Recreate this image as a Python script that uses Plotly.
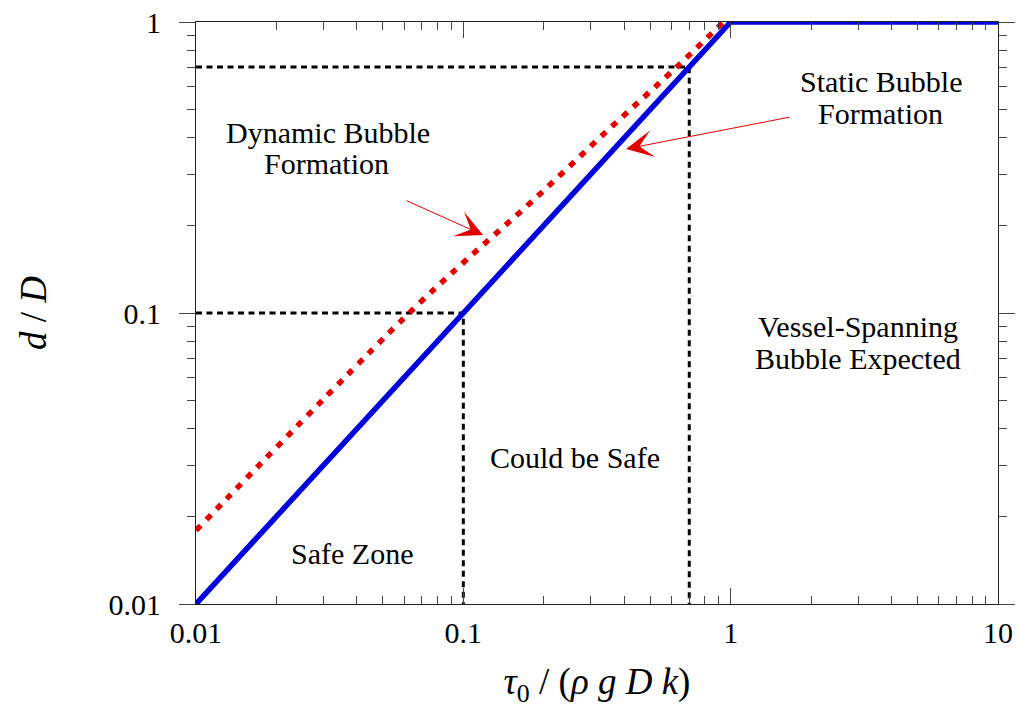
import plotly.graph_objects as go

# ---- data ----
blue_x = [0.01, 1.0, 10.0]
blue_y = [0.01, 1.0, 1.0]

red_x = [0.01, 0.0605, 0.1, 0.179, 0.339, 0.652, 0.94]
red_y = [0.0179, 0.0968, 0.149, 0.240, 0.416, 0.723, 1.0]

guide_low_x = [0.01, 0.1, 0.1]
guide_low_y = [0.1, 0.1, 0.01]
guide_high_x = [0.01, 0.7, 0.7]
guide_high_y = [0.7, 0.7, 0.01]

tick_vals_x = [0.01, 0.1, 1, 10]
tick_text_x = ["0.01", "0.1", "1", "10"]
tick_vals_y = [0.01, 0.1, 1]
tick_text_y = ["0.01", "0.1", "1"]

FONT = "Liberation Serif, Times New Roman, serif"

fig = go.Figure()
for gx, gy in [(guide_low_x, guide_low_y), (guide_high_x, guide_high_y)]:
    fig.add_trace(go.Scatter(x=gx, y=gy, mode="lines",
                             line=dict(color="black", width=3, dash="6px,4.5px"),
                             showlegend=False, hoverinfo="skip"))
fig.add_trace(go.Scatter(x=blue_x, y=blue_y, mode="lines",
                         line=dict(color="#0000dd", width=5.5), showlegend=False))
fig.add_trace(go.Scatter(x=red_x, y=red_y, mode="lines", line_shape="spline",
                         line=dict(color="#e00000", width=5.5, dash="6.5px,8px"),
                         showlegend=False))

axis_common = dict(type="log", showgrid=False, zeroline=False, showline=True,
                   linecolor="#222222", linewidth=1.2, mirror="ticks", automargin=False,
                   tickcolor="#444444", tickwidth=1.2, ticklen=16,
                   tickfont=dict(family=FONT, size=30, color="black"))

fig.update_xaxes(**axis_common, range=[-2, 1], tickvals=tick_vals_x, ticktext=tick_text_x,
                 ticks="inside", ticklabelstandoff=2,
                 minor=dict(dtick="D1", ticks="inside", ticklen=8, tickcolor="#444444",
                            tickwidth=1.2, showgrid=False),
                 title=dict(text="<i>τ</i><sub>0</sub> / (<i>ρ</i> <i>g</i> <i>D</i> <i>k</i>)",
                            font=dict(family=FONT, size=37, color="black"), standoff=20))
fig.update_yaxes(**axis_common, range=[-2, 0], tickvals=tick_vals_y, ticktext=tick_text_y,
                 ticks="outside", ticklabelstandoff=12,
                 minor=dict(dtick="D1", ticks="outside", ticklen=8, tickcolor="#444444",
                            tickwidth=1.2, showgrid=False),
                 title=dict(text="<i>d</i> / <i>D</i>",
                            font=dict(family=FONT, size=37, color="black"), standoff=50))

# text labels: (text, log10 x, log10 y)
labels = [
    ("Dynamic Bubble", -1.506, -0.379),
    ("Formation", -1.510, -0.485),
    ("Static Bubble", 0.5626, -0.206),
    ("Formation", 0.5590, -0.316),
    ("Vessel-Spanning", 0.4766, -1.048),
    ("Bubble Expected", 0.4766, -1.155),
    ("Could be Safe", -0.582, -1.498),
    ("Safe Zone", -1.416, -1.825),
]
for t, lx, ly in labels:
    fig.add_annotation(x=lx, y=ly, xref="x", yref="y", text=t, showarrow=False,
                       font=dict(family=FONT, size=30, color="black"),
                       xanchor="center", yanchor="middle")

# arrows: tip (log10 x, log10 y) and tail offset in px
arrows = [(-0.926, -0.732, -78, -35), (-0.391, -0.436, 165, -32)]
for lx, ly, ax, ay in arrows:
    fig.add_annotation(x=lx, y=ly, xref="x", yref="y", text="", showarrow=True,
                       ax=ax, ay=ay, arrowhead=3, arrowsize=4.5, arrowwidth=1,
                       arrowcolor="#e00000", standoff=0)

fig.update_layout(width=1018, height=723, margin=dict(l=196, r=20, t=22, b=119),
                  plot_bgcolor="white", paper_bgcolor="white",
                  font=dict(family=FONT, color="black"))

fig.write_html("out.html")
